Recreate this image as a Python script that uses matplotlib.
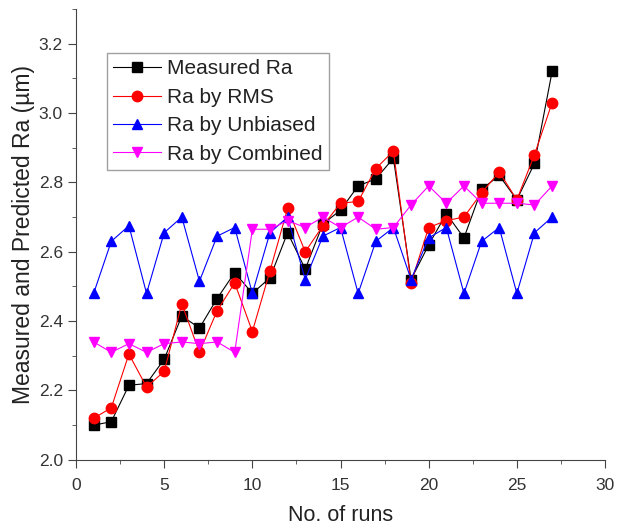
import matplotlib
matplotlib.use("Agg")
import matplotlib.pyplot as plt
from matplotlib.ticker import MultipleLocator, FormatStrFormatter

plt.rcParams['font.family'] = ['Liberation Sans', 'DejaVu Sans']

runs = list(range(1, 28))
measured = [2.10, 2.11, 2.215, 2.22, 2.29, 2.415, 2.38, 2.465, 2.54, 2.48,
            2.525, 2.655, 2.55, 2.68, 2.72, 2.79, 2.81, 2.87, 2.52, 2.62,
            2.71, 2.64, 2.78, 2.82, 2.75, 2.855, 3.12]
rms = [2.12, 2.15, 2.305, 2.21, 2.255, 2.45, 2.31, 2.43, 2.51, 2.37,
       2.545, 2.725, 2.60, 2.675, 2.74, 2.745, 2.84, 2.89, 2.51, 2.67,
       2.69, 2.70, 2.77, 2.83, 2.75, 2.88, 3.03]
unbiased = [2.48, 2.63, 2.675, 2.48, 2.655, 2.70, 2.515, 2.645, 2.67, 2.48,
            2.655, 2.70, 2.52, 2.645, 2.67, 2.48, 2.63, 2.67, 2.52, 2.64,
            2.67, 2.48, 2.63, 2.67, 2.48, 2.655, 2.70]
combined = [2.34, 2.31, 2.335, 2.31, 2.335, 2.34, 2.335, 2.34, 2.31, 2.665,
            2.665, 2.69, 2.67, 2.70, 2.67, 2.70, 2.665, 2.67, 2.735, 2.79,
            2.74, 2.79, 2.74, 2.74, 2.74, 2.735, 2.79]

labels = ["Measured Ra", "Ra by RMS", "Ra by Unbiased", "Ra by Combined"]

fig = plt.figure(figsize=(6.18, 5.31), dpi=100)
ax = fig.add_axes([0.123, 0.134, 0.856, 0.849])

ax.plot(runs, measured, color='black', lw=0.8, marker='s', ms=6.5, label=labels[0])
ax.plot(runs, rms, color='red', lw=0.8, marker='o', ms=7.5, label=labels[1])
ax.plot(runs, unbiased, color='blue', lw=0.8, marker='^', ms=7.5, label=labels[2])
ax.plot(runs, combined, color='#FF00FF', lw=0.8, marker='v', ms=7.5, label=labels[3])

ax.set_xlim(0, 30)
ax.set_ylim(2.0, 3.3)
ax.xaxis.set_major_locator(MultipleLocator(5))
ax.xaxis.set_minor_locator(MultipleLocator(2.5))
ax.yaxis.set_major_locator(MultipleLocator(0.2))
ax.yaxis.set_minor_locator(MultipleLocator(0.1))
ax.yaxis.set_major_formatter(FormatStrFormatter('%.1f'))
ax.spines['top'].set_visible(False)
ax.spines['right'].set_visible(False)
ax.spines['left'].set_color('#444444')
ax.spines['bottom'].set_color('#444444')
ax.tick_params(which='major', direction='out', length=6, labelsize=12.5,
               colors='#444444', labelcolor='#333333')
ax.tick_params(axis='y', which='major', pad=3.5)
ax.tick_params(axis='x', which='major', pad=7)
ax.tick_params(which='minor', direction='out', length=3, colors='#444444')

ax.set_xlabel("No. of runs", fontsize=15.5, labelpad=9, color='#222222')
ax.set_ylabel("Measured and Predicted Ra (µm)", fontsize=16.5, labelpad=3, color='#222222')

leg = ax.legend(loc='upper left', bbox_to_anchor=(0.0586, 0.902), borderaxespad=0,
                numpoints=1, fontsize=15, frameon=True, fancybox=False,
                edgecolor='#888888', borderpad=0.3, labelspacing=0.45,
                handlelength=2.3, handletextpad=0.3)
leg.get_frame().set_linewidth(1.0)
for t in leg.get_texts():
    t.set_color('#222222')

fig.savefig("out.png", dpi=100)
